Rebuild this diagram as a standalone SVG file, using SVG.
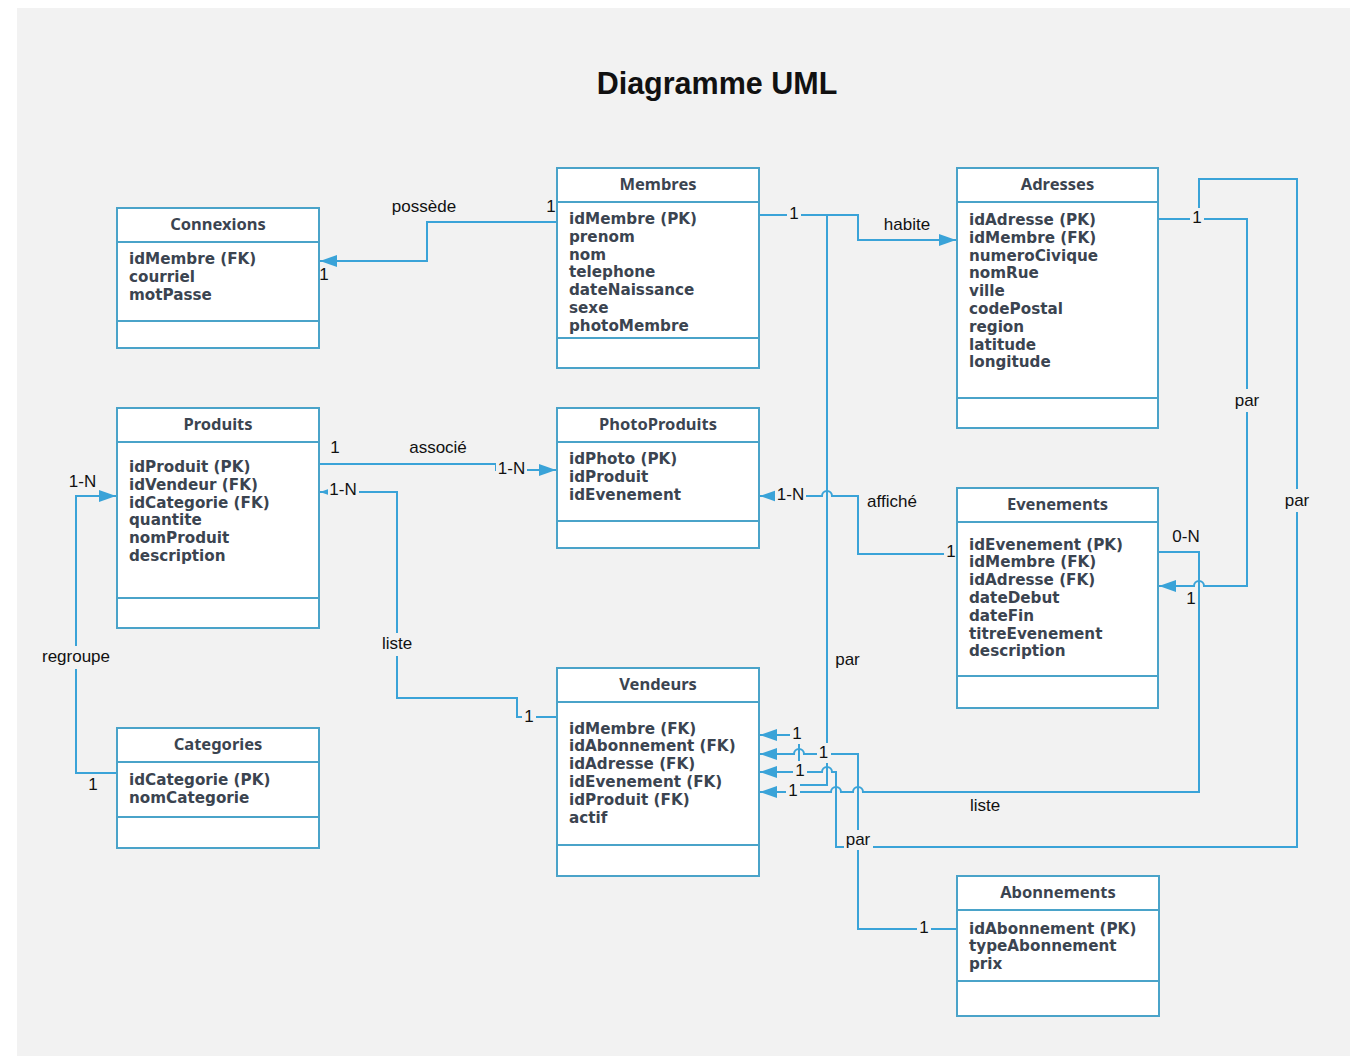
<svg xmlns="http://www.w3.org/2000/svg" width="1350" height="1056" viewBox="0 0 1350 1056">
<defs>
<style>
.box{fill:#ffffff;stroke:#4aa3c9;stroke-width:2}
.dv{stroke:#4aa3c9;stroke-width:2}
.hd{font-family:"Noto Sans","DejaVu Sans",sans-serif;font-weight:bold;font-size:16.5px;fill:#3b4450;text-anchor:middle}
.at{font-family:"DejaVu Sans",sans-serif;font-weight:bold;font-size:15.2px;fill:#3b4450}
.cn{fill:none;stroke:#3aa3d8;stroke-width:2}
.lb{font-family:"Liberation Sans",Arial,sans-serif;font-size:17px;fill:#111111;text-anchor:middle}
.bg{fill:#f2f2f2}
</style>
<marker id="ah" markerUnits="userSpaceOnUse" markerWidth="18" markerHeight="14" refX="17" refY="7" orient="auto">
<path d="M0,1 L17,7 L0,13 z" fill="#3aa3d8"/>
</marker>
</defs>
<rect x="0" y="0" width="1350" height="1056" fill="#ffffff"/>
<rect x="17" y="8" width="1333" height="1048" fill="#f2f2f2"/>
<text x="717" y="94" font-family="'Liberation Sans',Arial,sans-serif" font-weight="bold" font-size="30.5" fill="#111111" text-anchor="middle">Diagramme UML</text>

<g id="connectors">
<path class="cn" marker-end="url(#ah)" d="M557,222 H427 V261 H320"/>
<path class="cn" marker-end="url(#ah)" d="M759,215 H858 V240 H956"/>
<path class="cn" marker-end="url(#ah)" d="M759,215 H827 V785 H799 V735 H760"/>
<path class="cn" marker-end="url(#ah)" d="M957,929 H858 V754 H804 A5,5 0 0 0 794,754 H760"/>
<path class="cn" marker-end="url(#ah)" d="M1158,219 H1199 V179 H1297 V847 H836 V772 H832 A5,5 0 0 0 822,772 H760"/>
<path class="cn" marker-end="url(#ah)" d="M1158,219 H1247 V586 H1204 A5,5 0 0 0 1194,586 H1159"/>
<path class="cn" marker-end="url(#ah)" d="M1158,552 H1199 V792 H863 A5,5 0 0 0 853,792 H841 A5,5 0 0 0 831,792 H760"/>
<path class="cn" marker-end="url(#ah)" d="M957,554 H858 V496 H832 A5,5 0 0 0 822,496 H760"/>
<path class="cn" marker-end="url(#ah)" d="M319,464 H496 V470 H556"/>
<path class="cn" marker-end="url(#ah)" d="M557,717 H517 V698 H397 V492 H320"/>
<path class="cn" marker-end="url(#ah)" d="M117,773 H76 V496 H116"/>
</g>

<g id="labels">
<rect class="bg" x="787" y="204" width="14" height="20"/><text class="lb" x="794" y="219">1</text>
<rect class="bg" x="1190" y="208" width="14" height="20"/><text class="lb" x="1197" y="223">1</text>
<rect class="bg" x="1233" y="389" width="29" height="23"/><text class="lb" x="1247" y="406">par</text>
<rect class="bg" x="1283" y="489" width="29" height="23"/><text class="lb" x="1297" y="506">par</text>
<rect class="bg" x="496" y="459" width="31" height="20"/><text class="lb" x="511.5" y="474">1-N</text>
<rect class="bg" x="328" y="480" width="31" height="20"/><text class="lb" x="343" y="495">1-N</text>
<rect class="bg" x="775" y="485" width="31" height="20"/><text class="lb" x="790.5" y="500">1-N</text>
<rect class="bg" x="944" y="542" width="14" height="20"/><text class="lb" x="951" y="557">1</text>
<rect class="bg" x="522" y="707" width="14" height="20"/><text class="lb" x="529" y="722">1</text>
<rect class="bg" x="380" y="633" width="34" height="23"/><text class="lb" x="397" y="649">liste</text>
<rect class="bg" x="40" y="646" width="72" height="23"/><text class="lb" x="76" y="662">regroupe</text>
<rect class="bg" x="790" y="724" width="14" height="20"/><text class="lb" x="797" y="739">1</text>
<rect class="bg" x="817" y="743" width="14" height="20"/><text class="lb" x="823.5" y="758">1</text>
<rect class="bg" x="793" y="761" width="14" height="20"/><text class="lb" x="800" y="776">1</text>
<rect class="bg" x="786" y="781" width="14" height="20"/><text class="lb" x="793" y="796">1</text>
<rect class="bg" x="844" y="830" width="29" height="20"/><text class="lb" x="858" y="845">par</text>
<rect class="bg" x="917" y="918" width="14" height="20"/><text class="lb" x="924" y="933">1</text>
<text class="lb" x="424" y="212">possède</text>
<text class="lb" x="551" y="212">1</text>
<text class="lb" x="324" y="280">1</text>
<text class="lb" x="907" y="230">habite</text>
<text class="lb" x="335" y="453">1</text>
<text class="lb" x="438" y="453">associé</text>
<text class="lb" x="892" y="507">affiché</text>
<text class="lb" x="1186" y="542">0-N</text>
<text class="lb" x="1191" y="604">1</text>
<text class="lb" x="847.5" y="665">par</text>
<text class="lb" x="985" y="811">liste</text>
<text class="lb" x="82.5" y="487">1-N</text>
<text class="lb" x="93" y="790">1</text>
</g>

<g id="connexions">
<rect class="box" x="117" y="208" width="202" height="140"/>
<line class="dv" x1="117" y1="242" x2="319" y2="242"/>
<line class="dv" x1="117" y1="321" x2="319" y2="321"/>
<text class="hd" x="218" y="230">Connexions</text>
<text class="at" x="129" y="264">idMembre (FK)</text>
<text class="at" x="129" y="281.8">courriel</text>
<text class="at" x="129" y="299.6">motPasse</text>
</g>

<g id="membres">
<rect class="box" x="557" y="168" width="202" height="200"/>
<line class="dv" x1="557" y1="202" x2="759" y2="202"/>
<line class="dv" x1="557" y1="338" x2="759" y2="338"/>
<text class="hd" x="658" y="190">Membres</text>
<text class="at" x="569" y="224">idMembre (PK)</text>
<text class="at" x="569" y="241.8">prenom</text>
<text class="at" x="569" y="259.6">nom</text>
<text class="at" x="569" y="277.4">telephone</text>
<text class="at" x="569" y="295.2">dateNaissance</text>
<text class="at" x="569" y="313">sexe</text>
<text class="at" x="569" y="330.8">photoMembre</text>
</g>

<g id="adresses">
<rect class="box" x="957" y="168" width="201" height="260"/>
<line class="dv" x1="957" y1="202" x2="1158" y2="202"/>
<line class="dv" x1="957" y1="398" x2="1158" y2="398"/>
<text class="hd" x="1057.5" y="190">Adresses</text>
<text class="at" x="969" y="225">idAdresse (PK)</text>
<text class="at" x="969" y="242.8">idMembre (FK)</text>
<text class="at" x="969" y="260.6">numeroCivique</text>
<text class="at" x="969" y="278.4">nomRue</text>
<text class="at" x="969" y="296.2">ville</text>
<text class="at" x="969" y="314">codePostal</text>
<text class="at" x="969" y="331.8">region</text>
<text class="at" x="969" y="349.6">latitude</text>
<text class="at" x="969" y="367.4">longitude</text>
</g>

<g id="produits">
<rect class="box" x="117" y="408" width="202" height="220"/>
<line class="dv" x1="117" y1="442" x2="319" y2="442"/>
<line class="dv" x1="117" y1="598" x2="319" y2="598"/>
<text class="hd" x="218" y="430">Produits</text>
<text class="at" x="129" y="472">idProduit (PK)</text>
<text class="at" x="129" y="489.8">idVendeur (FK)</text>
<text class="at" x="129" y="507.6">idCategorie (FK)</text>
<text class="at" x="129" y="525.4">quantite</text>
<text class="at" x="129" y="543.2">nomProduit</text>
<text class="at" x="129" y="561">description</text>
</g>

<g id="photoproduits">
<rect class="box" x="557" y="408" width="202" height="140"/>
<line class="dv" x1="557" y1="442" x2="759" y2="442"/>
<line class="dv" x1="557" y1="521" x2="759" y2="521"/>
<text class="hd" x="658" y="430">PhotoProduits</text>
<text class="at" x="569" y="464">idPhoto (PK)</text>
<text class="at" x="569" y="481.8">idProduit</text>
<text class="at" x="569" y="499.6">idEvenement</text>
</g>

<g id="evenements">
<rect class="box" x="957" y="488" width="201" height="220"/>
<line class="dv" x1="957" y1="522" x2="1158" y2="522"/>
<line class="dv" x1="957" y1="676" x2="1158" y2="676"/>
<text class="hd" x="1057.5" y="510">Evenements</text>
<text class="at" x="969" y="549.5">idEvenement (PK)</text>
<text class="at" x="969" y="567.3">idMembre (FK)</text>
<text class="at" x="969" y="585.1">idAdresse (FK)</text>
<text class="at" x="969" y="602.9">dateDebut</text>
<text class="at" x="969" y="620.7">dateFin</text>
<text class="at" x="969" y="638.5">titreEvenement</text>
<text class="at" x="969" y="656.3">description</text>
</g>

<g id="vendeurs">
<rect class="box" x="557" y="668" width="202" height="208"/>
<line class="dv" x1="557" y1="702" x2="759" y2="702"/>
<line class="dv" x1="557" y1="845" x2="759" y2="845"/>
<text class="hd" x="658" y="690">Vendeurs</text>
<text class="at" x="569" y="733.5">idMembre (FK)</text>
<text class="at" x="569" y="751.3">idAbonnement (FK)</text>
<text class="at" x="569" y="769.1">idAdresse (FK)</text>
<text class="at" x="569" y="786.9">idEvenement (FK)</text>
<text class="at" x="569" y="804.7">idProduit (FK)</text>
<text class="at" x="569" y="822.5">actif</text>
</g>

<g id="categories">
<rect class="box" x="117" y="728" width="202" height="120"/>
<line class="dv" x1="117" y1="762" x2="319" y2="762"/>
<line class="dv" x1="117" y1="817" x2="319" y2="817"/>
<text class="hd" x="218" y="750">Categories</text>
<text class="at" x="129" y="785">idCategorie (PK)</text>
<text class="at" x="129" y="802.8">nomCategorie</text>
</g>

<g id="abonnements">
<rect class="box" x="957" y="876" width="202" height="140"/>
<line class="dv" x1="957" y1="910" x2="1159" y2="910"/>
<line class="dv" x1="957" y1="981" x2="1159" y2="981"/>
<text class="hd" x="1058" y="898">Abonnements</text>
<text class="at" x="969" y="933.5">idAbonnement (PK)</text>
<text class="at" x="969" y="951.3">typeAbonnement</text>
<text class="at" x="969" y="969.1">prix</text>
</g>
</svg>
